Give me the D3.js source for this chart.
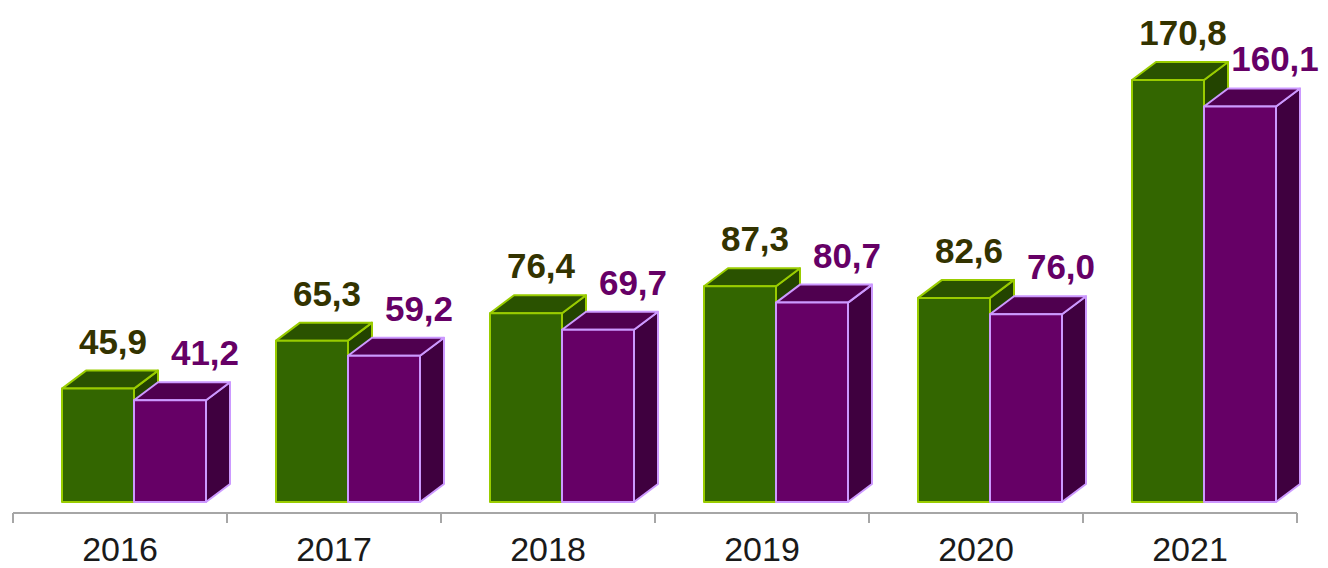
<!DOCTYPE html>
<html>
<head>
<meta charset="utf-8">
<script src="https://cdn.jsdelivr.net/npm/d3@7"></script>
<style>
  body { margin: 0; background: #fff; }
  text { font-family: "Liberation Sans", Arial, sans-serif; }
</style>
</head>
<body>
<svg id="chart" width="1328" height="568"></svg>
<script>
// data
var years = ["2016", "2017", "2018", "2019", "2020", "2021"];
var seriesA = [45.9, 65.3, 76.4, 87.3, 82.6, 170.8];
var seriesB = [41.2, 59.2, 69.7, 80.7, 76.0, 160.1];

var svg = d3.select("#chart");
var baseY = 502, axisY = 513;
var depthX = 24, depthY = 18;

var series = [
  {key: "a", values: seriesA, front: "#336600", top: "#2a5200", side: "#234400", stroke: "#99cc00", label: "#333300", dx: 15},
  {key: "b", values: seriesB, front: "#660066", top: "#4f004f", side: "#3f003f", stroke: "#cc99ff", label: "#660066", dx: 35}
];

var x = d3.scaleBand().domain(years).range([13, 1297]).padding(0);
var x1 = d3.scaleBand().domain(["a", "b"]).range([49, 193]).padding(0);
var y = d3.scaleLinear().domain([0, 170.8]).range([baseY, 80]);

var fmt = function(v) { return v.toFixed(1).replace(".", ","); };

// axis
var axis = svg.append("g").attr("transform", "translate(0," + axisY + ")");
axis.append("line").attr("x1", 13).attr("x2", 1297).attr("y1", 0).attr("y2", 0)
  .attr("stroke", "#a6a6a6").attr("stroke-width", 2);
var ticks = years.map(function(d) { return x(d); }).concat([x.range()[1]]);
axis.selectAll(".tick").data(ticks).enter().append("line")
  .attr("x1", function(d) { return d; }).attr("x2", function(d) { return d; })
  .attr("y1", 0).attr("y2", 10)
  .attr("stroke", "#a6a6a6").attr("stroke-width", 2);
axis.selectAll(".lbl").data(years).enter().append("text")
  .attr("x", function(d) { return x(d) + x.bandwidth() / 2; })
  .attr("y", 48)
  .attr("text-anchor", "middle")
  .attr("font-size", "34px")
  .attr("fill", "#1a1a1a")
  .text(function(d) { return d; });

// 3d bars, drawn series by series per year so right bar covers left side
years.forEach(function(yr, i) {
  series.forEach(function(s) {
    var v = s.values[i];
    var x0 = x(yr) + x1(s.key), w = x1.bandwidth();
    var yt = y(v);
    var g = svg.append("g")
      .attr("stroke", s.stroke).attr("stroke-width", 2).attr("stroke-linejoin", "round");
    // side
    g.append("path").attr("fill", s.side)
      .attr("d", "M" + (x0 + w) + "," + yt + "L" + (x0 + w + depthX) + "," + (yt - depthY) +
        "L" + (x0 + w + depthX) + "," + (baseY - depthY) + "L" + (x0 + w) + "," + baseY + "Z");
    // top
    g.append("path").attr("fill", s.top)
      .attr("d", "M" + x0 + "," + yt + "L" + (x0 + depthX) + "," + (yt - depthY) +
        "L" + (x0 + w + depthX) + "," + (yt - depthY) + "L" + (x0 + w) + "," + yt + "Z");
    // front
    g.append("rect").attr("fill", s.front)
      .attr("x", x0).attr("y", yt).attr("width", w).attr("height", baseY - yt);
  });
});

// value labels
series.forEach(function(s) {
  svg.selectAll(".val-" + s.key).data(s.values).enter().append("text")
    .attr("x", function(d, i) { return x(years[i]) + x1(s.key) + x1.bandwidth() / 2 + s.dx; })
    .attr("y", function(d) { return y(d) - depthY - 17; })
    .attr("text-anchor", "middle")
    .attr("font-size", "35px")
    .attr("font-weight", "bold")
    .attr("fill", s.label)
    .text(fmt);
});
</script>
</body>
</html>
